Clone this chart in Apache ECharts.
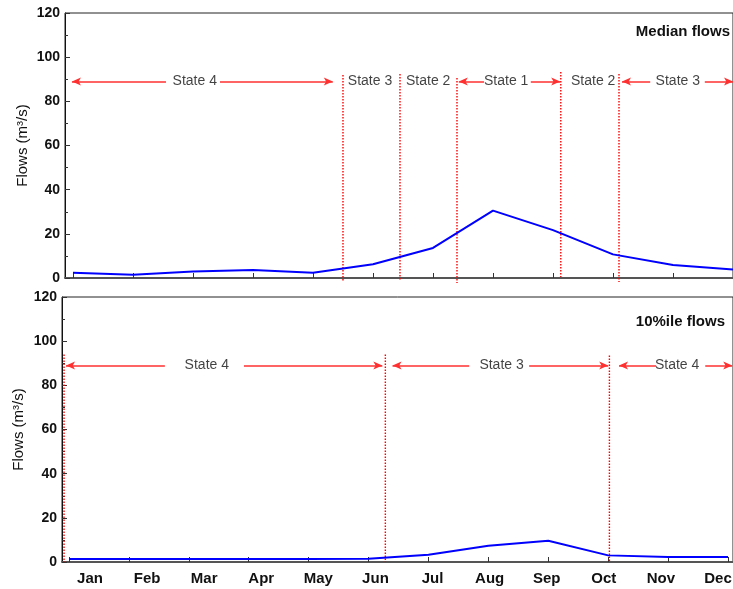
<!DOCTYPE html>
<html>
<head>
<meta charset="utf-8">
<script src="https://cdn.jsdelivr.net/npm/echarts@6/dist/echarts.min.js"></script>
<style>
html,body{margin:0;padding:0;background:#fff;}
#chart{width:733px;height:589px;}
</style>
</head>
<body>
<div id="chart"></div>
<script>
// ---- data ----
var months = ['Jan','Feb','Mar','Apr','May','Jun','Jul','Aug','Sep','Oct','Nov','Dec'];
var medianFlows = [2.4, 1.5, 2.9, 3.6, 2.4, 6.2, 13.6, 30.5, 21.7, 10.7, 5.9, 3.9];
var pct10Flows  = [1.4, 1.4, 1.4, 1.4, 1.4, 1.5, 3.3, 7.4, 9.6, 3.0, 2.3, 2.3];
var yTicks = [0, 20, 40, 60, 80, 100, 120];

// state boundaries (month position, y top, y bottom)
var topBoundX    = [5.5, 6.45, 7.4, 9.13, 10.1];
var topBoundYTop = [91.9, 92.4, 90.6, 93.3, 92.4];
var topBoundYBot = [-1.4, -0.9, -2.3, 0.5, -1.8];
var botBoundX    = [0.917, 6.28, 10.02];
var botBoundYTop = [94, 94, 93.5];
var botBoundYBot = [0, 0, 0];

// state labels
var topStateNames = ['State 4','State 3','State 2','State 1','State 2','State 3'];
var topStateX     = [3.03, 5.95, 6.92, 8.22, 9.67, 11.08];
var botStateNames = ['State 4','State 3','State 4'];
var botStateX     = [3.3, 8.22, 11.15];
var stateY = 89;

// arrow segments [from, to] (arrowhead at "to")
var topArrows = [[2.55,0.983],[3.45,5.33],[7.85,7.43],[8.63,9.12],[10.62,10.15],[11.53,12.0]];
var botArrows = [[2.6,0.95],[3.92,6.23],[7.68,6.4],[8.68,10.0],[10.8,10.18],[11.62,12.07]];

// ---- chart ----
var FONT = "'Liberation Sans',Arial,sans-serif";
var chart = echarts.init(document.getElementById('chart'), null, {renderer:'canvas'});
var monthIdx = months.map(function(m,i){return i+1;});

function pairs(vals){ return vals.map(function(v,i){return [i+1, v];}); }
function boundData(xs, yt, yb){
  return xs.map(function(x,i){ return [x, yt[i], yb[i]]; });
}
function arrowLines(segs){
  return segs.map(function(s){ return [{coord:[s[0], stateY]},{coord:[s[1], stateY]}]; });
}
function labelData(names, xs){
  return names.map(function(n,i){ return [xs[i], stateY, n]; });
}
function renderBound(params, api){
  var p1 = api.coord([api.value(0), api.value(1)]);
  var p2 = api.coord([api.value(0), api.value(2)]);
  return {
    type:'line', silent:true,
    shape:{x1:p1[0], y1:p1[1], x2:p2[0], y2:p2[1]},
    style:{stroke:'#ff0000', lineWidth:1.4, lineDash:[1.5,1.5]}
  };
}

function yAxisCfg(gi, gap){
  return {
    type:'value', gridIndex:gi, min:0, max:120, interval:20,
    name:'Flows (m\u00B3/s)', nameLocation:'middle', nameGap:gap, nameMoveOverlap:false,
    nameTextStyle:{fontFamily:FONT, fontSize:15, color:'#111'},
    axisLine:{show:true, lineStyle:{color:'#111', width:1}},
    axisTick:{show:true, inside:true, length:5, lineStyle:{color:'#333'}},
    minorTick:{show:true, splitNumber:2, length:3, lineStyle:{color:'#333'}},
    splitLine:{show:false},
    axisLabel:{fontFamily:FONT, fontWeight:'bold', fontSize:14, color:'#111', margin:5,
      customValues: yTicks}
  };
}
function xAxisCfg(gi, min, max){
  return {
    type:'value', gridIndex:gi, min:min, max:max,
    axisLine:{show:true, onZero:false, lineStyle:{color:'#555', width:2}},
    axisTick:{show:true, inside:true, length:5, customValues: monthIdx, lineStyle:{color:'#333', width:1}},
    axisLabel:{show:false},
    splitLine:{show:false}
  };
}
var arrowStyle = {color:'#ff3030', width:1.5, type:'solid'};

var option = {
  animation:false,
  backgroundColor:'#fff',
  title:[
    {text:'Median flows', right:-2, top:19, textStyle:{fontFamily:FONT, fontWeight:'bold', fontSize:15, color:'#111'}},
    {text:'10%ile flows', right:3, top:309, textStyle:{fontFamily:FONT, fontWeight:'bold', fontSize:15, color:'#111'}}
  ],
  grid:[
    {left:65, top:13, width:668, height:265, show:true, borderColor:'#222', borderWidth:1, outerBoundsMode:'none', containLabel:false},
    {left:62, top:297, width:671, height:265, show:true, borderColor:'#222', borderWidth:1, outerBoundsMode:'none', containLabel:false},
    {left:61.45, top:297, width:685.1, height:265, show:false, outerBoundsMode:'none', containLabel:false}
  ],
  xAxis:[
    xAxisCfg(0, 0.867, 12),
    xAxisCfg(1, 0.883, 12.083),
    {type:'category', gridIndex:2, data:months, boundaryGap:true,
     axisLine:{show:false}, axisTick:{show:false},
     axisLabel:{fontFamily:FONT, fontWeight:'bold', fontSize:15, color:'#111', margin:9}}
  ],
  yAxis:[
    yAxisCfg(0, 35),
    yAxisCfg(1, 36),
    {type:'value', gridIndex:2, show:false, min:0, max:120}
  ],
  series:[
    {type:'line', xAxisIndex:0, yAxisIndex:0, data:pairs(medianFlows), symbol:'none',
     lineStyle:{color:'#0000ff', width:2}, silent:true},
    {type:'line', xAxisIndex:1, yAxisIndex:1, data:pairs(pct10Flows), symbol:'none',
     lineStyle:{color:'#0000ff', width:2}, silent:true},
    {type:'custom', xAxisIndex:0, yAxisIndex:0, clip:false, silent:true,
     data:boundData(topBoundX, topBoundYTop, topBoundYBot), renderItem:renderBound,
     encode:{x:0, y:[1,2]}},
    {type:'custom', xAxisIndex:1, yAxisIndex:1, clip:false, silent:true,
     data:boundData(botBoundX, botBoundYTop, botBoundYBot), renderItem:renderBound,
     encode:{x:0, y:[1,2]}},
    {type:'line', xAxisIndex:0, yAxisIndex:0, data:[], clip:false, silent:true,
     markLine:{silent:true, symbol:['none','arrow'], symbolSize:[6,9], label:{show:false}, animation:false,
       lineStyle:arrowStyle, data:arrowLines(topArrows)}},
    {type:'line', xAxisIndex:1, yAxisIndex:1, data:[], clip:false, silent:true,
     markLine:{silent:true, symbol:['none','arrow'], symbolSize:[6,9], label:{show:false}, animation:false,
       lineStyle:arrowStyle, data:arrowLines(botArrows)}},
    {type:'scatter', xAxisIndex:0, yAxisIndex:0, symbolSize:0, silent:true, clip:false,
     data:labelData(topStateNames, topStateX),
     label:{show:true, position:'inside', formatter:function(p){return p.data[2];},
       fontFamily:FONT, fontSize:14, color:'#111'}},
    {type:'scatter', xAxisIndex:1, yAxisIndex:1, symbolSize:0, silent:true, clip:false,
     data:labelData(botStateNames, botStateX),
     label:{show:true, position:'inside', formatter:function(p){return p.data[2];},
       fontFamily:FONT, fontSize:14, color:'#111'}}
  ]
};
chart.setOption(option);
</script>
</body>
</html>
